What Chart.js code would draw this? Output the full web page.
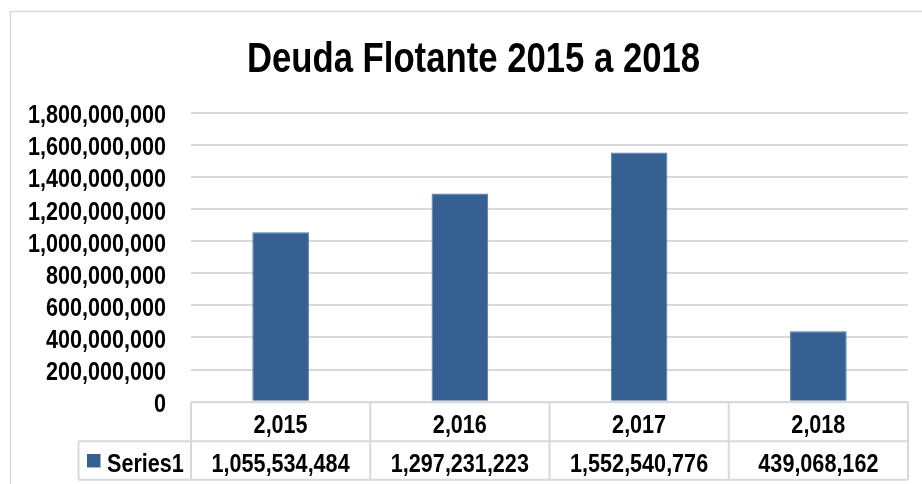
<!DOCTYPE html>
<html>
<head>
<meta charset="utf-8">
<script src="https://cdn.jsdelivr.net/npm/chart.js@4/dist/chart.umd.min.js"></script>
<style>
  html, body { margin: 0; padding: 0; background: #ffffff; }
  #wrap { width: 922px; height: 484px; position: relative; }
</style>
</head>
<body>
<div id="wrap"><canvas id="c" width="922" height="484"></canvas></div>
<script>
const chartTitle = 'Deuda Flotante 2015 a 2018';
const categories = [2015, 2016, 2017, 2018];
const seriesName = 'Series1';
const values = [1055534484, 1297231223, 1552540776, 439068162];
const yMin = 0;
const yMax = 1800000000;
const yStep = 200000000;

const FONT = '"Liberation Sans", Arial, sans-serif';
const BAR = '#376092';
const GRID = '#d9d9d9';
const fmt = v => Number(v).toLocaleString('en-US');

// draw horizontally condensed bold text (mimics Arial Narrow Bold)
function narrowText(ctx, text, x, y, align, size, sx) {
  ctx.save();
  ctx.translate(x, y);
  ctx.scale(sx, 1);
  ctx.font = 'bold ' + size + 'px ' + FONT;
  ctx.fillStyle = '#000000';
  ctx.textAlign = align;
  ctx.textBaseline = 'alphabetic';
  ctx.fillText(text, 0, 0);
  ctx.restore();
}

const framePlugin = {
  id: 'frame',
  beforeDraw(chart) {
    const ctx = chart.ctx;
    ctx.save();
    ctx.strokeStyle = GRID;
    ctx.lineWidth = 1.5;
    ctx.beginPath();
    ctx.moveTo(10.5, 500);
    ctx.lineTo(10.5, 11.5);
    ctx.lineTo(940, 11.5);
    ctx.stroke();
    ctx.restore();
  }
};

const textPlugin = {
  id: 'texts',
  afterDraw(chart) {
    const ctx = chart.ctx;
    // title
    narrowText(ctx, chartTitle, 473.5, 71.5, 'center', 43, 0.807);
    // y tick labels from the library's own scale
    const y = chart.scales.y;
    y.ticks.forEach(t => {
      const py = y.getPixelForValue(t.value);
      narrowText(ctx, fmt(t.value), 166, py + 10.5, 'right', 26, 0.83);
    });
  }
};

const tablePlugin = {
  id: 'dataTable',
  afterDraw(chart) {
    const ctx = chart.ctx;
    const x = chart.scales.x;
    const area = chart.chartArea;
    const n = categories.length;
    const colW = (area.right - area.left) / n;
    const r1Top = area.bottom + 0.5;
    const r1Bot = r1Top + 39;
    const r2Bot = r1Bot + 38.5;
    const legLeft = 78.5;
    ctx.save();
    ctx.strokeStyle = GRID;
    ctx.lineWidth = 2;
    ctx.beginPath();
    ctx.moveTo(area.left, r1Top); ctx.lineTo(area.right, r1Top);
    ctx.moveTo(legLeft, r1Bot); ctx.lineTo(area.right, r1Bot);
    ctx.moveTo(legLeft, r2Bot); ctx.lineTo(area.right, r2Bot);
    ctx.moveTo(legLeft, r1Bot); ctx.lineTo(legLeft, r2Bot);
    for (let i = 0; i <= n; i++) {
      const xx = area.left + colW * i;
      ctx.moveTo(xx, r1Top); ctx.lineTo(xx, r2Bot);
    }
    ctx.stroke();
    ctx.restore();

    const c1 = (r1Top + r1Bot) / 2 + 2 + 9.3;
    const c2 = (r1Bot + r2Bot) / 2 + 2 + 9.3;
    for (let i = 0; i < n; i++) {
      const cx = x.getPixelForValue(i);
      narrowText(ctx, fmt(categories[i]), cx, c1, 'center', 26, 0.83);
      narrowText(ctx, fmt(values[i]), cx, c2, 'center', 26, 0.83);
    }
    // legend key
    const midY = (r1Bot + r2Bot) / 2;
    ctx.save();
    ctx.fillStyle = BAR;
    ctx.fillRect(87, midY - 6.5, 13.5, 13.5);
    ctx.restore();
    narrowText(ctx, seriesName, 107, c2, 'left', 26, 0.83);
  }
};

new Chart(document.getElementById('c'), {
  type: 'bar',
  data: {
    labels: categories.map(fmt),
    datasets: [{
      label: seriesName,
      data: values,
      backgroundColor: BAR,
      borderColor: '#4a77ad',
      borderWidth: 1,
      categoryPercentage: 1,
      barPercentage: 0.316
    }]
  },
  options: {
    responsive: false,
    animation: false,
    devicePixelRatio: 1,
    layout: { padding: { left: 0, right: 14, top: 112.7, bottom: 82.3 } },
    plugins: {
      legend: { display: false },
      tooltip: { enabled: false },
      title: { display: false }
    },
    scales: {
      x: { display: false },
      y: {
        min: yMin,
        max: yMax,
        border: { display: false },
        grid: { color: GRID, lineWidth: 2, drawTicks: false },
        ticks: { stepSize: yStep, display: false },
        afterFit(scale) { scale.width = 191; }
      }
    }
  },
  plugins: [framePlugin, tablePlugin, textPlugin]
});
</script>
</body>
</html>
